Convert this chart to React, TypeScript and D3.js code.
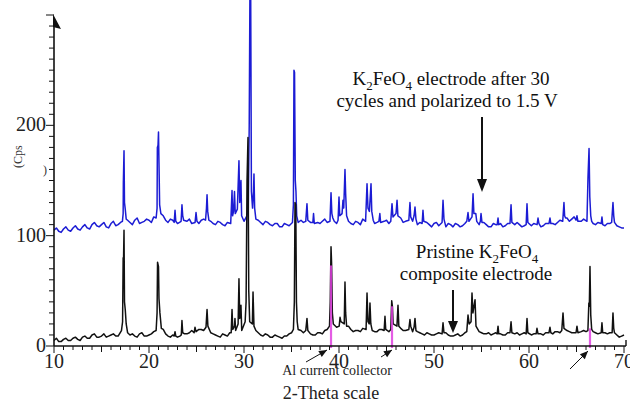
import React from 'react';
import * as d3 from 'd3';

// ---- data (2-theta in degrees, intensity in counts) ----
const xTickValues = [10, 20, 30, 40, 50, 60, 70];
const yTickValues = [0, 100, 200];

const blueBaseline: [number, number][] = [
  [10, 105], [10.5, 104], [11, 106], [11.5, 105], [12, 107], [12.5, 106], [13, 108], [13.5, 107],
  [14, 110], [14.5, 109], [15, 110], [15.5, 108], [16, 111], [16.5, 109], [17, 112], [17.5, 116],
  [18, 112], [18.5, 114], [19, 111], [19.5, 113], [20, 114], [20.5, 117], [21, 118], [21.5, 118],
  [22, 112], [22.5, 114], [23, 111], [23.5, 113], [24, 113], [24.5, 111], [25, 113], [25.5, 114],
  [26, 116], [26.5, 113], [27, 110], [27.5, 112], [28, 109], [28.5, 112], [29, 113], [29.5, 114],
  [30, 113], [30.5, 115], [31, 114], [31.5, 114], [32, 110], [32.5, 112], [33, 109], [33.5, 111],
  [34, 108], [34.5, 110], [35, 112], [35.5, 113], [36, 114], [36.5, 111], [37, 112], [37.5, 109],
  [38, 111], [38.5, 115], [39, 110], [39.5, 113], [40, 114], [40.5, 116], [41, 113], [41.5, 110],
  [42, 112], [42.5, 115], [43, 114], [43.5, 113], [44, 112], [44.5, 110], [45, 114], [45.5, 111],
  [46, 113], [46.5, 116], [47, 113], [47.5, 112], [48, 113], [48.5, 112], [49, 111], [49.5, 110],
  [50, 111], [50.5, 109], [51, 110], [51.5, 111], [52, 108], [52.5, 110], [53, 109], [53.5, 111],
  [54, 112], [54.5, 112], [55, 111], [55.5, 110], [56, 108], [56.5, 110], [57, 111], [57.5, 109],
  [58, 111], [58.5, 110], [59, 110], [59.5, 109], [60, 110], [60.5, 111], [61, 110], [61.5, 109],
  [62, 112], [62.5, 111], [63, 112], [63.5, 114], [64, 116], [64.5, 115], [65, 114], [65.5, 113],
  [66, 112], [66.5, 114], [67, 110], [67.5, 111], [68, 109], [68.5, 111], [69, 110], [69.5, 108],
  [70, 107],
];

const blueNoise: [number, number][] = [
  [10.25, 107], [10.75, 103], [11.25, 108], [11.75, 104], [12.25, 109], [12.75, 105], [13.25, 110], [13.75, 106],
  [14.25, 112], [14.75, 108], [15.25, 112], [15.75, 107], [16.25, 113], [16.75, 110], [17.25, 114], [17.75, 114],
  [18.25, 110], [18.75, 116], [19.25, 112], [19.75, 115], [20.25, 112], [20.75, 116], [21.25, 120], [21.75, 114],
  [22.25, 115], [22.75, 112], [23.25, 113], [23.75, 111], [24.25, 115], [24.75, 113], [25.25, 111], [25.75, 115],
  [26.25, 114], [26.75, 111], [27.25, 113], [27.75, 110], [28.25, 112], [28.75, 113], [29.25, 115], [29.75, 115],
  [30.25, 116], [30.75, 130], [31.25, 115], [31.75, 112], [32.25, 113], [32.75, 110], [33.25, 111], [33.75, 108],
  [34.25, 111], [34.75, 109], [35.25, 120], [35.75, 111], [36.25, 112], [36.75, 113], [37.25, 110], [37.75, 112],
  [38.25, 113], [38.75, 112], [39.25, 118], [39.75, 111], [40.25, 115], [40.75, 120], [41.25, 111], [41.75, 113],
  [42.25, 110], [42.75, 113], [43.25, 120], [43.75, 111], [44.25, 114], [44.75, 113], [45.25, 111], [45.75, 114],
  [46.25, 114], [46.75, 112], [47.25, 115], [47.75, 113], [48.25, 110], [48.75, 111], [49.25, 112], [49.75, 108],
  [50.25, 112], [50.75, 111], [51.25, 108], [51.75, 110], [52.25, 111], [52.75, 108], [53.25, 111], [53.75, 112],
  [54.25, 118], [54.75, 110], [55.25, 112], [55.75, 108], [56.25, 111], [56.75, 113], [57.25, 108], [57.75, 111],
  [58.25, 109], [58.75, 112], [59.25, 108], [59.75, 112], [60.25, 109], [60.75, 112], [61.25, 108], [61.75, 111],
  [62.25, 113], [62.75, 110], [63.25, 114], [63.75, 117], [64.25, 113], [64.75, 117], [65.25, 112], [65.75, 115],
  [66.25, 150], [66.75, 111], [67.25, 112], [67.75, 109], [68.25, 111], [68.75, 113], [69.25, 109], [69.75, 107],
];

const bluePeaks: [number, number][] = [
  [17.2, 113], [17.28, 120], [17.3, 148], [17.37, 177], [17.42, 130], [17.5, 124], [17.6, 115],
  [20.75, 116], [20.85, 125], [20.88, 180], [20.95, 182], [21.0, 194], [21.05, 166], [21.12, 128], [21.25, 120],
  [22.65, 112], [22.74, 123], [22.82, 113],
  [23.38, 113], [23.47, 128], [23.55, 118], [23.65, 114],
  [24.85, 112], [24.95, 121], [25.05, 113],
  [25.95, 114], [26.05, 125], [26.11, 137], [26.18, 122], [26.3, 114],
  [28.6, 111], [28.74, 141], [28.8, 118], [28.9, 122], [29.0, 140], [29.08, 120],
  [29.3, 124], [29.4, 150], [29.47, 168], [29.55, 130], [29.68, 150], [29.75, 118],
  [30.3, 118], [30.45, 125], [30.55, 200], [30.63, 330], [30.7, 330], [30.78, 140],
  [30.9, 125], [31.0, 140], [31.05, 156], [31.12, 125], [31.25, 115],
  [35.1, 112], [35.2, 128], [35.26, 250], [35.32, 248], [35.4, 150], [35.47, 140], [35.55, 118], [35.7, 112],
  [36.5, 113], [36.63, 129], [36.72, 114],
  [37.25, 112], [37.32, 120], [37.4, 111],
  [39.05, 113], [39.16, 139], [39.25, 120], [39.35, 116],
  [39.9, 114], [40.0, 135], [40.08, 118],
  [40.32, 120], [40.42, 132], [40.5, 125], [40.63, 160], [40.7, 138], [40.8, 118],
  [42.8, 113], [42.95, 147], [43.05, 125], [43.2, 122], [43.37, 147], [43.45, 122], [43.6, 114],
  [44.2, 113], [44.3, 120], [44.38, 112],
  [45.45, 113], [45.58, 129], [45.68, 117], [46.0, 120], [46.11, 132], [46.2, 118],
  [47.35, 114], [47.47, 130], [47.55, 117], [47.9, 118], [48.0, 126], [48.1, 115],
  [48.75, 111], [48.84, 123], [48.92, 113],
  [50.85, 112], [50.95, 132], [51.05, 115],
  [53.45, 113], [53.58, 121], [53.68, 113], [54.0, 117], [54.11, 138], [54.2, 120], [54.4, 120], [54.5, 113],
  [54.88, 113], [54.95, 120], [55.05, 112],
  [56.65, 110], [56.74, 116], [56.82, 110],
  [58.0, 111], [58.11, 128], [58.2, 112],
  [59.7, 110], [59.79, 129], [59.88, 112],
  [60.85, 110], [60.95, 116], [61.05, 111],
  [62.1, 111], [62.21, 116], [62.3, 111],
  [63.55, 113], [63.68, 130], [63.75, 118], [63.85, 116],
  [64.95, 114], [65.05, 118], [65.15, 113],
  [66.1, 113], [66.21, 153], [66.32, 179], [66.4, 135], [66.5, 118], [66.6, 113],
  [67.6, 111], [67.68, 117], [67.76, 110],
  [68.7, 112], [68.84, 130], [68.92, 118], [69.0, 112],
];

const blackBaseline: [number, number][] = [
  [10, 5], [10.5, 4], [11, 6], [11.5, 5], [12, 7], [12.5, 6], [13, 8], [13.5, 7],
  [14, 10], [14.5, 8], [15, 9], [15.5, 8], [16, 10], [16.5, 9], [17, 12], [17.5, 14],
  [18, 10], [18.5, 9], [19, 11], [19.5, 9], [20, 10], [20.5, 13], [21, 14], [21.5, 15],
  [22, 9], [22.5, 10], [23, 8], [23.5, 10], [24, 11], [24.5, 14], [25, 13], [25.5, 15],
  [26, 16], [26.5, 12], [27, 10], [27.5, 8], [28, 10], [28.5, 12], [29, 14], [29.5, 16],
  [30, 20], [30.5, 18], [31, 16], [31.5, 12], [32, 9], [32.5, 10], [33, 8], [33.5, 9],
  [34, 7], [34.5, 9], [35, 12], [35.5, 14], [36, 14], [36.5, 12], [37, 11], [37.5, 10],
  [38, 12], [38.5, 14], [39, 16], [39.5, 20], [40, 18], [40.5, 18], [41, 18], [41.5, 13],
  [42, 14], [42.5, 16], [43, 15], [43.5, 14], [44, 13], [44.5, 15], [45, 14], [45.5, 15],
  [46, 15], [46.5, 16], [47, 14], [47.5, 14], [48, 13], [48.5, 12], [49, 10], [49.5, 11],
  [50, 10], [50.5, 12], [51, 11], [51.5, 10], [52, 9], [52.5, 11], [53, 10], [53.5, 12],
  [54, 14], [54.5, 15], [55, 12], [55.5, 11], [56, 10], [56.5, 12], [57, 11], [57.5, 10],
  [58, 12], [58.5, 11], [59, 10], [59.5, 12], [60, 11], [60.5, 11], [61, 10], [61.5, 10],
  [62, 12], [62.5, 11], [63, 13], [63.5, 13], [64, 14], [64.5, 12], [65, 11], [65.5, 13],
  [66, 13], [66.5, 14], [67, 12], [67.5, 11], [68, 12], [68.5, 12], [69, 11], [69.5, 8],
  [70, 10],
];

const blackNoise: [number, number][] = [
  [10.25, 7], [10.75, 4], [11.25, 7], [11.75, 5], [12.25, 8], [12.75, 5], [13.25, 9], [13.75, 7],
  [14.25, 11], [14.75, 8], [15.25, 11], [15.75, 9], [16.25, 11], [16.75, 9], [17.25, 20], [17.75, 12],
  [18.25, 11], [18.75, 8], [19.25, 12], [19.75, 9], [20.25, 11], [20.75, 14], [21.25, 16], [21.75, 11],
  [22.25, 8], [22.75, 11], [23.25, 9], [23.75, 11], [24.25, 12], [24.75, 13], [25.25, 15], [25.75, 14],
  [26.25, 15], [26.75, 11], [27.25, 9], [27.75, 11], [28.25, 9], [28.75, 14], [29.25, 18], [29.75, 15],
  [30.25, 20], [30.75, 15], [31.25, 14], [31.75, 10], [32.25, 11], [32.75, 8], [33.25, 10], [33.75, 8],
  [34.25, 9], [34.75, 11], [35.25, 15], [35.75, 13], [36.25, 12], [36.75, 13], [37.25, 10], [37.75, 12],
  [38.25, 11], [38.75, 15], [39.25, 20], [39.75, 17], [40.25, 20], [40.75, 17], [41.25, 15], [41.75, 14],
  [42.25, 13], [42.75, 16], [43.25, 20], [43.75, 13], [44.25, 15], [44.75, 14], [45.25, 13], [45.75, 17],
  [46.25, 17], [46.75, 14], [47.25, 15], [47.75, 13], [48.25, 13], [48.75, 11], [49.25, 12], [49.75, 10],
  [50.25, 11], [50.75, 10], [51.25, 12], [51.75, 9], [52.25, 10], [52.75, 9], [53.25, 12], [53.75, 18],
  [54.25, 20], [54.75, 13], [55.25, 11], [55.75, 12], [56.25, 11], [56.75, 13], [57.25, 10], [57.75, 12],
  [58.25, 10], [58.75, 12], [59.25, 11], [59.75, 13], [60.25, 10], [60.75, 12], [61.25, 11], [61.75, 12],
  [62.25, 11], [62.75, 13], [63.25, 12], [63.75, 15], [64.25, 13], [64.75, 12], [65.25, 12], [65.75, 14],
  [66.25, 15], [66.75, 13], [67.25, 11], [67.75, 12], [68.25, 11], [68.75, 13], [69.25, 10], [69.75, 9],
];

const blackPeaks: [number, number][] = [
  [17.1, 14], [17.22, 22], [17.28, 80], [17.32, 78], [17.37, 105], [17.42, 40], [17.5, 33], [17.6, 20], [17.75, 12],
  [20.75, 14], [20.85, 30], [20.9, 76], [20.95, 74], [21.0, 72], [21.05, 43], [21.15, 30], [21.3, 16],
  [22.65, 9], [22.74, 13], [22.82, 9],
  [23.4, 10], [23.47, 23], [23.55, 12],
  [24.75, 12], [24.84, 17], [24.95, 13],
  [26.0, 17], [26.11, 33], [26.2, 18],
  [28.65, 12], [28.74, 33], [28.82, 15],
  [29.0, 18], [29.05, 25], [29.12, 14],
  [29.38, 20], [29.47, 61], [29.55, 25], [29.68, 37], [29.76, 14],
  [30.12, 22], [30.22, 40], [30.32, 150], [30.42, 189], [30.5, 50], [30.6, 22],
  [30.88, 20], [30.95, 49], [31.05, 18],
  [35.2, 15], [35.3, 40], [35.37, 130], [35.45, 128], [35.52, 40], [35.6, 22], [35.7, 15],
  [36.5, 14], [36.63, 25], [36.72, 14],
  [39.0, 18], [39.08, 40], [39.16, 90], [39.22, 75], [39.3, 30], [39.4, 20],
  [40.02, 18], [40.11, 26], [40.2, 22], [40.55, 20], [40.63, 58], [40.7, 30], [40.8, 18],
  [42.85, 15], [42.95, 48], [43.05, 22], [43.18, 20], [43.26, 39], [43.35, 20],
  [44.75, 14], [44.84, 27], [44.92, 15],
  [45.45, 15], [45.55, 41], [45.62, 36], [45.7, 20], [46.1, 18], [46.21, 37], [46.3, 18],
  [47.35, 15], [47.47, 24], [47.55, 18], [47.9, 17], [48.0, 25], [48.1, 14],
  [50.85, 11], [50.95, 21], [51.05, 12],
  [53.45, 13], [53.58, 28], [53.7, 20], [53.9, 22], [54.0, 48], [54.1, 30], [54.32, 42], [54.42, 18],
  [56.65, 11], [56.74, 18], [56.82, 11],
  [58.0, 12], [58.11, 22], [58.2, 12],
  [59.7, 11], [59.79, 25], [59.88, 12],
  [60.75, 11], [60.84, 16], [60.95, 11],
  [62.1, 12], [62.21, 17], [62.3, 12],
  [63.45, 14], [63.58, 30], [63.68, 16],
  [64.95, 12], [65.05, 18], [65.15, 12],
  [66.2, 14], [66.3, 39], [66.35, 36], [66.42, 72], [66.5, 28], [66.6, 15],
  [67.6, 12], [67.68, 21], [67.76, 12],
  [68.75, 12], [68.84, 30], [68.92, 16], [69.0, 12],
];

const alPeakPositions = [39.16, 45.58, 66.42];
const alPeakHeights = [73, 36, 16];

// ---- layout ----
const W = 630;
const H = 403;
const X0 = 54;
const X1 = 624;
const Y0 = 346;
const YTOP = 15;
const FONT = "'Liberation Serif', 'Times New Roman', serif";
const BLUE = '#1c1cd4';

function buildTrace(base: [number, number][], peaks: [number, number][]) {
  const kept = base.filter(([x]) => !peaks.some(([px]) => Math.abs(px - x) < 0.13));
  return d3.sort([...kept, ...peaks], (d) => d[0]);
}

export default function App() {
  const x = d3.scaleLinear().domain([10, 70]).range([X0, X1]);
  const y = d3.scaleLinear().domain([0, 300]).range([Y0, YTOP]);
  const line = d3
    .line<[number, number]>()
    .x((d) => x(d[0]))
    .y((d) => y(d[1]));

  const blue = buildTrace([...blueBaseline, ...blueNoise], bluePeaks);
  const black = buildTrace([...blackBaseline, ...blackNoise], blackPeaks);

  const xMinor = d3.range(10, 71, 1);
  const yMinor = d3.range(0, 301, 10);

  return (
    <svg
      width={W}
      height={H}
      style={{ position: 'absolute', left: 0, top: 0, background: '#fff' }}
      fontFamily={FONT}
    >
      <rect x={0} y={0} width={W} height={H} fill="#fff" />
      {/* traces */}
      <path d={line(blue) || ''} fill="none" stroke={BLUE} strokeWidth={1.5} strokeLinejoin="round" />
      <path d={line(black) || ''} fill="none" stroke="#111" strokeWidth={1.5} strokeLinejoin="round" />
      {alPeakPositions.map((p, i) => (
        <line
          key={'al' + i}
          x1={x(p)}
          x2={x(p)}
          y1={y(alPeakHeights[i])}
          y2={Y0 + 2}
          stroke="#e040e0"
          strokeWidth={2.2}
          opacity={0.85}
        />
      ))}

      {/* axes */}
      <line x1={X0} x2={X0} y1={Y0} y2={YTOP + 8} stroke="#111" strokeWidth={1.6} />
      <polygon points={`${X0 - 1},${YTOP - 1} ${X0 + 7},${YTOP + 14} ${X0 - 1},${YTOP + 12}`} fill="#111" />
      <line x1={X0} x2={X1 + 2} y1={Y0} y2={Y0} stroke="#111" strokeWidth={1.6} />
      <line x1={X1 + 2} x2={X1 + 2} y1={Y0} y2={Y0 - 6} stroke="#111" strokeWidth={1.4} />
      {xMinor.map((v) => {
        const len = v % 10 === 0 ? 7 : v % 5 === 0 ? 6 : 4;
        return <line key={'xt' + v} x1={x(v)} x2={x(v)} y1={Y0} y2={Y0 + len} stroke="#111" strokeWidth={1} />;
      })}
      {yMinor.map((v) => {
        const len = v % 100 === 0 ? 8 : 5;
        return <line key={'yt' + v} x1={X0 - len} x2={X0} y1={y(v)} y2={y(v)} stroke="#111" strokeWidth={1} />;
      })}
      {xTickValues.map((v) => (
        <text key={'xl' + v} x={x(v)} y={Y0 + 22} fontSize={20} textAnchor="middle" fill="#222">
          {v}
        </text>
      ))}
      {yTickValues.map((v) => (
        <text key={'yl' + v} x={X0 - 8} y={y(v) + 6} fontSize={20} textAnchor="end" fill="#222">
          {v}
        </text>
      ))}
      <text transform="translate(22,168) rotate(-90)" fontSize={12} fill="#333">(Cps</text>
      <text x={43} y={174} fontSize={12} fill="#333">)</text>

      {/* axis title and Al annotation */}
      <text x={331} y={399} fontSize={18} textAnchor="middle" fill="#222">2-Theta scale</text>
      <text x={337} y={375} fontSize={14} textAnchor="middle" fill="#222">Al current collector</text>
      {[[306, 362, 327, 350], [381, 357, 392, 350], [570, 369, 588, 351]].map((a, i) => {
        const [ax, ay, bx, by] = a;
        const ang = Math.atan2(by - ay, bx - ax);
        const hl = 8;
        const hw = 3.5;
        const p1 = [bx - hl * Math.cos(ang) + hw * Math.sin(ang), by - hl * Math.sin(ang) - hw * Math.cos(ang)];
        const p2 = [bx - hl * Math.cos(ang) - hw * Math.sin(ang), by - hl * Math.sin(ang) + hw * Math.cos(ang)];
        return (
          <g key={'arr' + i}>
            <line x1={ax} y1={ay} x2={bx} y2={by} stroke="#111" strokeWidth={1} />
            <polygon points={`${bx},${by} ${p1[0]},${p1[1]} ${p2[0]},${p2[1]}`} fill="#111" />
          </g>
        );
      })}

      {/* upper annotation */}
      <text x={451} y={85} fontSize={19} textAnchor="middle" fill="#111">
        K<tspan fontSize={13} dy={5}>2</tspan>
        <tspan dy={-5}>FeO</tspan>
        <tspan fontSize={13} dy={5}>4</tspan>
        <tspan dy={-5}> electrode after 30</tspan>
      </text>
      <text x={447} y={107} fontSize={19} textAnchor="middle" fill="#111">
        cycles and polarized to 1.5 V
      </text>
      <line x1={482} x2={482} y1={117} y2={180} stroke="#111" strokeWidth={2} />
      <polygon points="477,179 487,179 482,192" fill="#111" />

      {/* lower annotation */}
      <text x={477} y={258} fontSize={19} textAnchor="middle" fill="#111">
        Pristine K<tspan fontSize={13} dy={5}>2</tspan>
        <tspan dy={-5}>FeO</tspan>
        <tspan fontSize={13} dy={5}>4</tspan>
      </text>
      <text x={476} y={280} fontSize={19} textAnchor="middle" fill="#111">
        composite electrode
      </text>
      <line x1={453} x2={453} y1={290} y2={322} stroke="#111" strokeWidth={2} />
      <polygon points="448,321 458,321 453,333" fill="#111" />
    </svg>
  );
}
